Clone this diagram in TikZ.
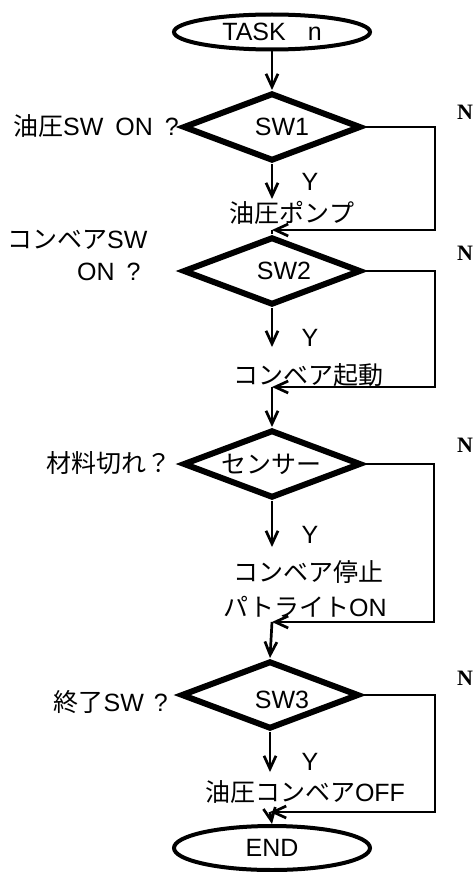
\documentclass[tikz,border=0pt]{standalone}
\usepackage{fontspec}
\setmainfont{Liberation Sans}
\newfontfamily\jp{Noto Sans CJK JP}
\newfontfamily\nfont{Liberation Serif}
\usetikzlibrary{shapes.geometric,arrows.meta}
\begin{document}
\begin{tikzpicture}[x=1pt,y=-1pt,
  every node/.style={inner sep=0pt, font=\fontsize{25}{30}\selectfont},
  dia/.style={diamond, draw, line width=6pt, minimum width=178pt, minimum height=68pt, aspect=2.5},
  oval/.style={ellipse, draw, line width=4pt, minimum width=196pt, minimum height=35pt},
  conn/.style={line width=2.7pt},
  arr/.style={conn, -{Straight Barb[length=13pt,width=12pt,line width=2.7pt]}},
  nlab/.style={font=\nfont\bfseries\fontsize{22}{24}\selectfont}
]
\useasboundingbox (0,0) rectangle (475,872);

% start
\node[oval] (task) at (272,32) {TASK\hspace{22pt}n};

% SW1
\node[dia] (d1) at (272,127) {};
\node (s1) at (282,127) {SW1};
\node[anchor=east] (l1) at (179,126) {{\jp 油圧}SW\hspace{12pt}ON\hspace{12pt}?};
\coordinate (a1) at (272,199);
\node (y1) at (310,182) {Y};
\node (t1) at (292,213) {\jp 油圧ポンプ};
\node[nlab] (n1) at (465,112) {N};
\coordinate (r1) at (435,127);
\coordinate (m1) at (272,230);

% SW2
\node[dia] (d2) at (272,271) {};
\node (s2) at (284,271) {SW2};
\node[anchor=west] (l2a) at (7,240) {{\jp コンベア}SW};
\node[anchor=west] (l2b) at (77,272) {ON\hspace{12pt}?};
\coordinate (a2) at (272,347);
\node (y2) at (310,338) {Y};
\node (t2) at (308,375) {\jp コンベア起動};
\node[nlab] (n2) at (465,253) {N};
\coordinate (r2) at (435,271);
\coordinate (m2) at (272,387);

% sensor
\node[dia] (d3) at (272,464) {};
\node (s3) at (271,464) {\jp センサー};
\node[anchor=east] (l3) at (172,463) {\jp 材料切れ？};
\coordinate (a3) at (272,547);
\node (y3) at (310,535) {Y};
\node (t3a) at (308,572) {\jp コンベア停止};
\node (t3b) at (305,607) {{\jp パトライト}ON};
\node[nlab] (n3) at (465,445) {N};
\coordinate (r3) at (434,464);
\coordinate (m3) at (272,622);

% SW3
\node[dia] (d4) at (270,695) {};
\node (s4) at (282,700) {SW3};
\node[anchor=east] (l4) at (168,702) {{\jp 終了}SW\hspace{10pt}?};
\coordinate (a4) at (270,772);
\node (y4) at (310,762) {Y};
\node (t4) at (305,792) {{\jp 油圧コンベア}OFF};
\node[nlab] (n4) at (465,678) {N};
\coordinate (r4) at (435,695);
\coordinate (m4) at (270,812);

% end
\node[oval, minimum height=44pt] (end) at (272,848) {END};

% connectors
\draw[arr] (task) -- (d1.north);
\draw[arr] (d1.south) -- (a1);
\draw[arr] (d1.east) -- (r1) |- (m1);
\draw[conn] (m1) -- (d2.north);

\draw[arr] (d2.south) -- (a2);
\draw[arr] (d2.east) -- (r2) |- (m2);
\draw[arr] (m2) -- (d3.north);

\draw[arr] (d3.south) -- (a3);
\draw[arr] (d3.east) -- (r3) |- (m3);
\draw[arr] (m3) -- (d4.north);

\draw[arr] (d4.south) -- (a4);
\draw[arr] (d4.east) -- (r4) |- (m4);
\draw[arr] (m4) -- (end.north);
\end{tikzpicture}
\end{document}
